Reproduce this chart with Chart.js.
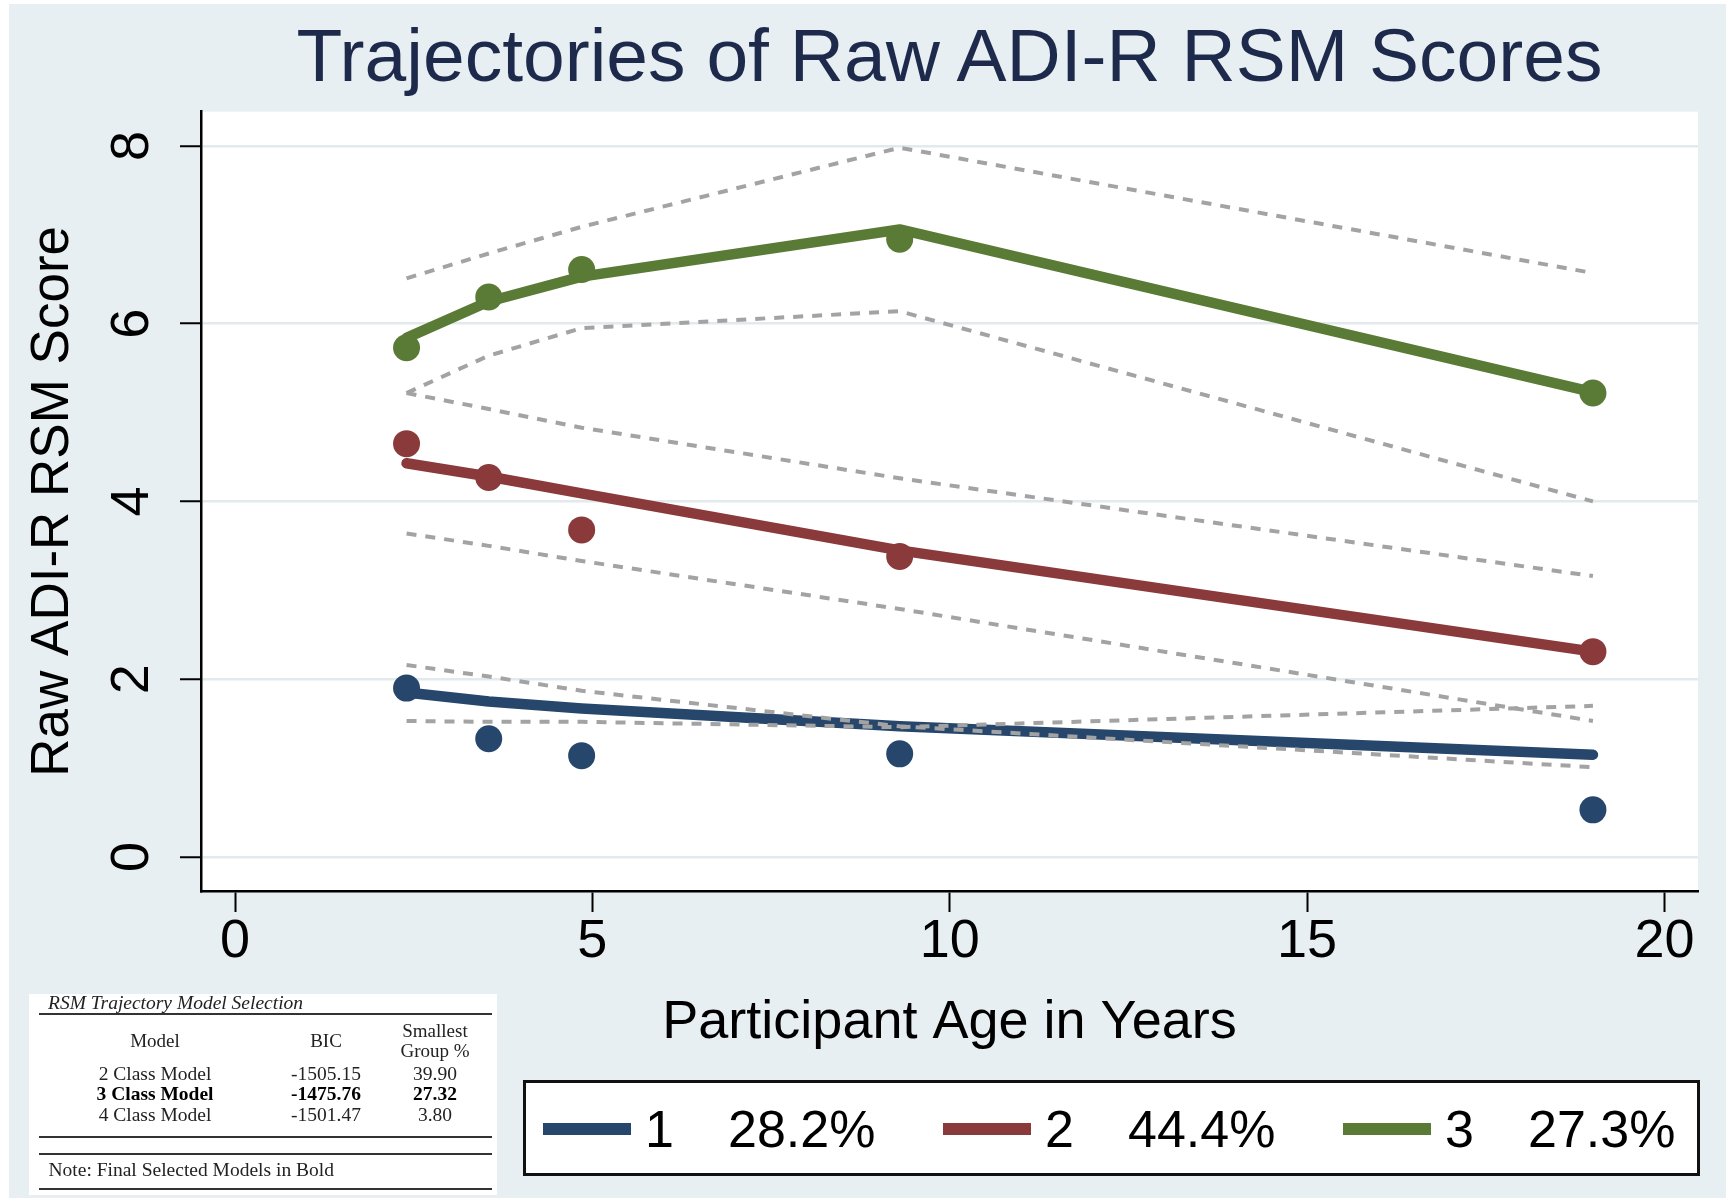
<!DOCTYPE html>
<html>
<head>
<meta charset="utf-8">
<script src="https://cdn.jsdelivr.net/npm/chart.js@4.4.1/dist/chart.umd.min.js"></script>
<style>
  body { margin: 0; background: #fff; }
  #page { position: relative; width: 1726px; height: 1198px; overflow: hidden; background: #fff; }
  #bg { position: absolute; left: 9px; top: 4px; right: 0; bottom: 0; background: #e8eff2; }
  #myChart { position: absolute; left: 0; top: 0; }
  #title { position: absolute; left: 201px; width: 1497px; top: 18px; text-align: center;
           font: 75px/75px 'Liberation Sans', Arial, sans-serif; color: #1e2a4c; white-space: nowrap; }
  #legend { position: absolute; left: 523px; top: 1080px; width: 1177px; height: 96px; box-sizing: border-box;
            border: 3px solid #111; background: #fff; }
  .key { position: absolute; top: 39.5px; width: 88px; height: 12px; }
  .ltxt { position: absolute; top: 19.7px; font: 52px/52px 'Liberation Sans', Arial, sans-serif; color: #000; white-space: nowrap; }
  #table { position: absolute; left: 29px; top: 994px; width: 468px; height: 201px; background: #fff; }
  .t { position: absolute; font-family: 'Liberation Serif', 'Times New Roman', serif; color: #222; white-space: nowrap; }
  .rule { position: absolute; left: 39px; width: 453px; height: 2px; background: #333; }
</style>
</head>
<body>
<div id="page">
  <div id="bg"></div>
  <canvas id="myChart" width="1726" height="1198"></canvas>
  <div id="title">Trajectories of Raw ADI-R RSM Scores</div>
  <div id="table"></div>
  <div id="legend"></div>
</div>
<script>
// ages where each class was measured
const ages = [2.4, 3.55, 4.85, 9.3, 19.0];

// observed means (dots)
const observed1 = [1.90, 1.33, 1.14, 1.16, 0.53];
const observed2 = [4.65, 4.27, 3.68, 3.38, 2.31];
const observed3 = [5.73, 6.30, 6.61, 6.95, 5.22];

// fitted trajectories
const fitted1 = [1.85, 1.75, 1.67, 1.47, 1.15];
const fitted2 = [4.43, 4.28, 4.09, 3.45, 2.31];
const fitted3 = [5.84, 6.25, 6.53, 7.06, 5.23];

// confidence bands (dashed)
const bandA1 = [2.16, 2.03, 1.87, 1.47, 1.01];
const bandB1 = [1.53, 1.52, 1.52, 1.46, 1.70];
const upper2 = [5.22, 5.04, 4.83, 4.26, 3.16];
const lower2 = [3.64, 3.50, 3.33, 2.79, 1.53];
const upper3 = [6.51, 6.79, 7.09, 7.98, 6.57];
const lower3 = [5.22, 5.64, 5.95, 6.14, 4.00];

const classNames = ['1', '2', '3'];
const classShares = ['28.2%', '44.4%', '27.3%'];

const xTicks = [0, 5, 10, 15, 20];
const yTicks = [0, 2, 4, 6, 8];

// model selection table
const modelNames = ['2 Class Model', '3 Class Model', '4 Class Model'];
const modelBIC = ['-1505.15', '-1475.76', '-1501.47'];
const modelSmallest = ['39.90', '27.32', '3.80'];
const chosenModel = 1;

const colors = ['#26466c', '#8b3a3c', '#5a7b36'];
const font = "'Liberation Sans', Arial, sans-serif";

function pts(ys) {
  return ages.map(function(a, i) { return {x: a, y: ys[i]}; });
}

const observed = [observed1, observed2, observed3];
const fitted = [fitted1, fitted2, fitted3];
const bands = [bandA1, bandB1, upper2, lower2, upper3, lower3];

const datasets = [];
bands.forEach(function(b) {
  datasets.push({
    data: pts(b), showLine: true, borderColor: '#a3a3a3', borderWidth: 4,
    borderDash: [10, 9], pointRadius: 0, tension: 0, order: 0
  });
});
fitted.forEach(function(f, i) {
  datasets.push({
    data: pts(f), showLine: true, borderColor: colors[i], borderWidth: 10.5,
    borderCapStyle: 'round', borderJoinStyle: 'round', pointRadius: 0, tension: 0, order: 1
  });
});
observed.forEach(function(o, i) {
  datasets.push({
    data: pts(o), showLine: false, pointRadius: 13.5, pointBackgroundColor: colors[i],
    pointBorderWidth: 0, order: 2
  });
});

//white plot region
const plotBg = {
  id: 'plotBg',
  beforeDraw(chart) {
    const a = chart.chartArea, ctx = chart.ctx;
    ctx.save();
    ctx.fillStyle = '#fff';
    ctx.fillRect(a.left, a.top, a.right - a.left, a.bottom - a.top);
    ctx.restore();
  }
};

const config = {
  type: 'scatter',
  data: { datasets: datasets },
  options: {
    responsive: false,
    animation: false,
    devicePixelRatio: 1,
    layout: { padding: { top: 111.7, right: 28, bottom: 142.8, left: 0 } },
    plugins: { legend: { display: false }, tooltip: { enabled: false }, title: { display: false } },
    scales: {
      x: {
        type: 'linear', min: -0.476, max: 20.47,
        afterFit: function(s) { s.height = 164.2; },
        afterBuildTicks: function(s) { s.ticks = xTicks.map(function(v) { return {value: v}; }); },
        ticks: { color: '#000', font: { family: font, size: 54, lineHeight: 1.1 }, padding: 0, maxRotation: 0 },
        grid: { drawOnChartArea: false, tickLength: 21, tickColor: '#000', tickWidth: 2 },
        border: { color: '#000', width: 2.5 },
        title: { display: true, text: 'Participant Age in Years', color: '#000',
                 font: { family: font, size: 54, lineHeight: 1.2 }, padding: 0 }
      },
      y: {
        type: 'linear', min: -0.383, max: 8.385,
        afterFit: function(s) { s.width = 201; },
        afterBuildTicks: function(s) { s.ticks = yTicks.map(function(v) { return {value: v}; }); },
        ticks: { color: '#000', font: { family: font, size: 54 }, padding: 32,
                 minRotation: 90, maxRotation: 90, crossAlign: 'center' },
        grid: { color: '#e2eaed', lineWidth: 2.5, tickLength: 21, tickColor: '#000', tickWidth: 2 },
        border: { color: '#000', width: 2.5 },
        title: { display: true, text: 'Raw ADI-R RSM Score', color: '#000',
                 font: { family: font, size: 53, lineHeight: 1.2 }, padding: { top: 21.5, bottom: 0 } }
      }
    }
  },
  plugins: [plotBg]
};

const myChart = new Chart(document.getElementById('myChart').getContext('2d'), config);

// legend
const legend = document.getElementById('legend');
classNames.forEach(function(name, i) {
  const x0 = 17 + i * 400;
  const key = document.createElement('div');
  key.className = 'key';
  key.style.left = x0 + 'px';
  key.style.background = colors[i];
  legend.appendChild(key);
  const n = document.createElement('div');
  n.className = 'ltxt';
  n.style.left = (x0 + 102) + 'px';
  n.textContent = name;
  legend.appendChild(n);
  const p = document.createElement('div');
  p.className = 'ltxt';
  p.style.left = (x0 + 185) + 'px';
  p.textContent = classShares[i];
  legend.appendChild(p);
});

// table, page coordinates -> relative to the box
const table = document.getElementById('table');
const T0x = 29, T0y = 994;
function put(text, x, base, size, opts) {
  opts = opts || {};
  const d = document.createElement('div');
  d.className = 't';
  d.textContent = text;
  d.style.fontSize = size + 'px';
  d.style.lineHeight = size + 'px';
  d.style.top = (base - 0.8375 * size - T0y) + 'px';
  if (opts.center) {
    d.style.left = (x - 100 - T0x) + 'px';
    d.style.width = '200px';
    d.style.textAlign = 'center';
  } else {
    d.style.left = (x - T0x) + 'px';
  }
  if (opts.italic) d.style.fontStyle = 'italic';
  if (opts.bold) { d.style.fontWeight = 'bold'; d.style.color = '#000'; }
  table.appendChild(d);
}
function rule(y) {
  const r = document.createElement('div');
  r.className = 'rule';
  r.style.left = (39 - T0x) + 'px';
  r.style.top = (y - 1 - T0y) + 'px';
  table.appendChild(r);
}
const colX = [155, 326, 435];
put('RSM Trajectory Model Selection', 48, 1009.3, 19.5, {italic: true});
rule(1014.3);
put('Model', colX[0], 1046.7, 19, {center: true});
put('BIC', colX[1], 1046.7, 19, {center: true});
put('Smallest', colX[2], 1037.3, 19, {center: true});
put('Group %', colX[2], 1056.5, 19, {center: true});
const rowBase = [1080, 1100.8, 1121.7];
modelNames.forEach(function(m, i) {
  const b = i === chosenModel;
  put(m, colX[0], rowBase[i], 19.5, {center: true, bold: b});
  put(modelBIC[i], colX[1], rowBase[i], 19.5, {center: true, bold: b});
  put(modelSmallest[i], colX[2], rowBase[i], 19.5, {center: true, bold: b});
});
rule(1136.7);
rule(1154.3);
put('Note: Final Selected Models in Bold', 48.5, 1176.7, 19.5);
rule(1189.3);
</script>
</body>
</html>
